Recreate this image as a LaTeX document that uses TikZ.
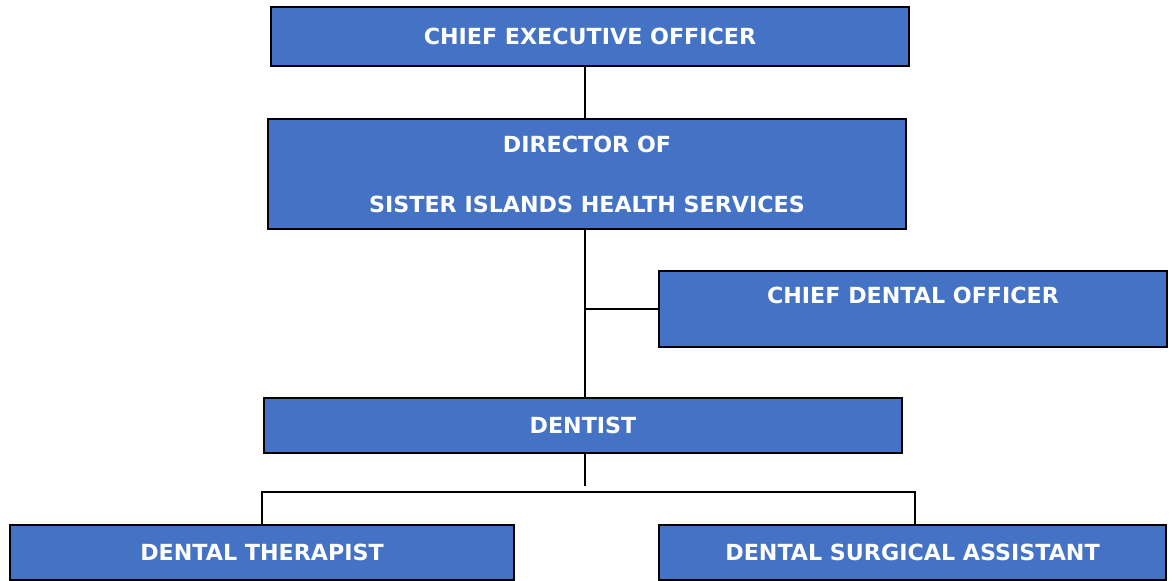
\documentclass[tikz,border=0pt]{standalone}
\usepackage{fontspec}
\setmainfont{DejaVu Sans}
\definecolor{postblue}{HTML}{4472C4}
\tikzset{
  post/.style={draw=black, line width=1pt, fill=postblue, text=white, inner sep=0pt,
    align=center, font=\fontsize{11.1}{13.5}\selectfont\bfseries},
  link/.style={draw=black, line width=0.85pt}
}
\begin{document}
\begin{tikzpicture}[x=0.5pt, y=-0.5pt]
    \useasboundingbox (0, 0) rectangle (1172, 581);
    \node [post, minimum width=319pt, minimum height=29.5pt] (ceo) at (590, 36.5) {CHIEF EXECUTIVE OFFICER};
    \node [post, minimum width=319pt, minimum height=55pt] (director) at (587, 174) {DIRECTOR OF\\[16.5pt]SISTER ISLANDS HEALTH SERVICES};
    \node [post, minimum width=254pt, minimum height=38pt] (cdo) at (913, 309) {CHIEF DENTAL OFFICER\\ \mbox{}};
    \node [post, minimum width=319pt, minimum height=27.5pt] (dentist) at (583, 425.5) {DENTIST};
    \node [post, minimum width=252pt, minimum height=27.5pt] (therapist) at (262, 552.5) {DENTAL THERAPIST};
    \node [post, minimum width=253.5pt, minimum height=27.5pt] (assistant) at (912.5, 552.5) {DENTAL SURGICAL ASSISTANT};
    % spine and short stub below the dentist
    \coordinate (spine) at (585, 0);
    \coordinate (stub) at (585, 486.5);
    \coordinate (bar) at (0, 492);
    \draw [link] (spine |- ceo.south) -- (spine |- director.north);
    \draw [link] (spine |- director.south) -- (spine |- dentist.north);
    \draw [link] (spine |- cdo.west) -- (cdo.west);
    \draw [link] (spine |- dentist.south) -- (stub);
    \draw [link] (therapist.north) -- (therapist.north |- bar) -- ([xshift=1.25pt]assistant.north |- bar) -- ([xshift=1.25pt]assistant.north);
\end{tikzpicture}
\end{document}
